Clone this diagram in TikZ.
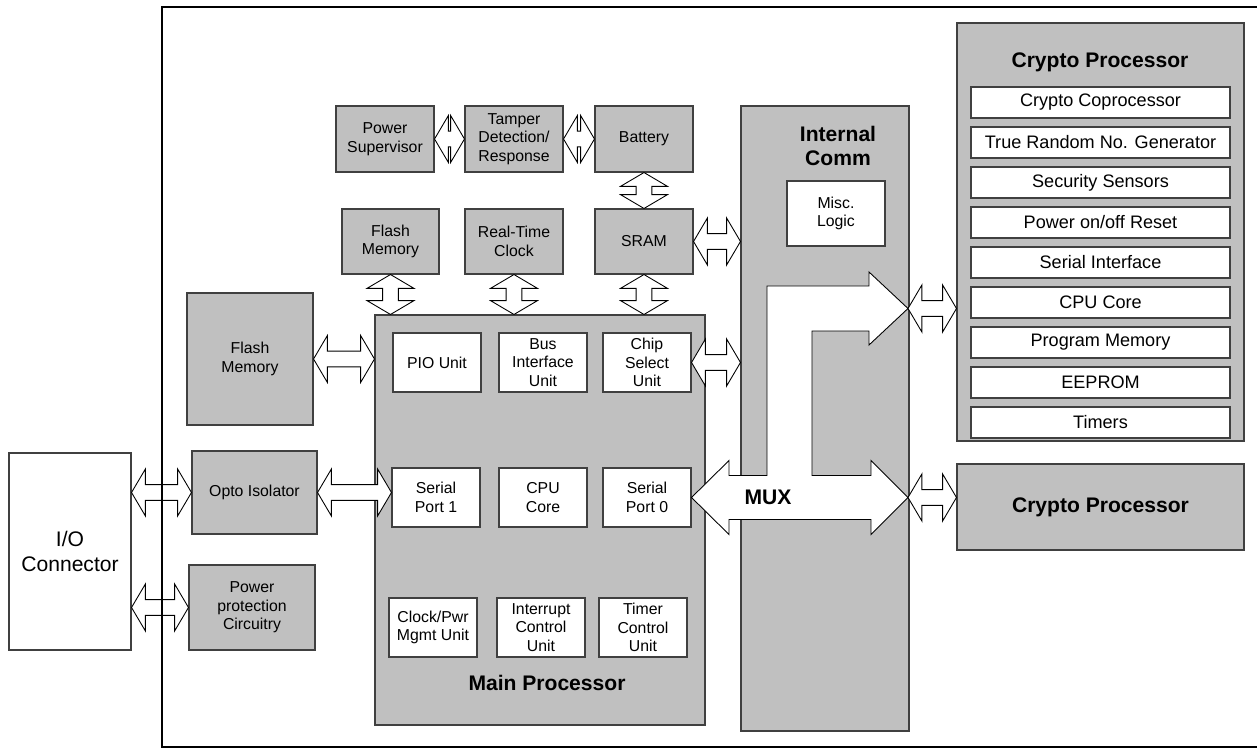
\documentclass[tikz,border=0pt]{standalone}
\usepackage{fontspec}
\setmainfont{Liberation Sans}
\usetikzlibrary{calc}

\definecolor{boxgray}{HTML}{C0C0C0}

\tikzset{
  graybox/.style={draw=black!75, line width=0.6pt, fill=boxgray, align=center, inner sep=0pt,
    font=\fontsize{9}{10.5}\selectfont},
  whitebox/.style={graybox, fill=white},
  boxsize/.style 2 args={minimum width={#1*0.02cm}, minimum height={#2*0.02cm}},
  titletext/.style={font=\fontsize{12}{14}\selectfont\bfseries, align=center},
  cryptorow/.style={whitebox, boxsize={259}{31}, font=\fontsize{10.3}{12}\selectfont},
  busline/.style={draw=black, fill=white, line width=0.5pt, line join=miter},
  frame/.style={line width=1.6pt},
}

% fat double arrow between two points
\def\bhl{7.9pt}
\def\bhw{13.4pt}
\def\bsw{4.5pt}
\newcommand\busarrow[2]{%
  \path[busline] let \p1=#1, \p2=#2,
      \n1={atan2(\y2-\y1,\x2-\x1)}, \n2={veclen(\x2-\x1,\y2-\y1)} in
    [shift={(\p1)}, rotate=\n1]
    (0pt,0pt) -- (\bhl,\bhw) -- (\bhl,\bsw) -- ({\n2*1pt-\bhl},\bsw) -- ({\n2*1pt-\bhl},\bhw)
    -- ({\n2*1pt},0pt) -- ({\n2*1pt-\bhl},-\bhw) -- ({\n2*1pt-\bhl},-\bsw) -- (\bhl,-\bsw)
    -- (\bhl,-\bhw) -- cycle;}

\begin{document}
\begin{tikzpicture}[x=0.02cm, y=-0.02cm]
  \useasboundingbox (0,0) rectangle (1257,749);

  % left side
  \node[whitebox, boxsize={122}{197}, font=\fontsize{12}{14}\selectfont] (io) at (70,551.5) {I/O\\Connector};
  \node[graybox, boxsize={125}{83}] (opto) at (254.5,492.5) {Opto Isolator};
  \node[graybox, boxsize={126}{85}] (pprot) at (252,607.5) {Power\\protection\\Circuitry};
  \node[graybox, boxsize={126}{132}] (flashL) at (250,359) {Flash\\Memory};

  % top row
  \node[graybox, boxsize={98}{66}] (ps) at (385,139) {Power\\Supervisor};
  \node[graybox, boxsize={98}{66}] (tamper) at (514,139) {Tamper\\Detection/\\Response};
  \node[graybox, boxsize={98}{66}] (battery) at (644,139) {Battery};
  \node[graybox, boxsize={97}{65}] (flashT) at (390.5,241.5) {Flash\\Memory};
  \node[graybox, boxsize={98}{65}] (rtc) at (514,241.5) {Real-Time\\Clock};
  \node[graybox, boxsize={98}{65}] (sram) at (644,241.5) {SRAM};

  % main processor
  \node[graybox, boxsize={330}{410}] (main) at (540,520) {};
  \node[whitebox, boxsize={88}{59}] (pio) at (437,362.5) {PIO Unit};
  \node[whitebox, boxsize={88}{59}] (biu) at (543,362.5) {Bus\\Interface\\Unit};
  \node[whitebox, boxsize={88}{59}] (csu) at (647,362.5) {Chip\\Select\\Unit};
  \node[whitebox, boxsize={88}{59}] (sp1) at (436,497.5) {Serial\\Port 1};
  \node[whitebox, boxsize={88}{59}] (cpu) at (543,497.5) {CPU\\Core};
  \node[whitebox, boxsize={88}{59}] (sp0) at (647,497.5) {Serial\\Port 0};
  \node[whitebox, boxsize={88}{59}] (clk) at (433,627.5) {Clock/Pwr\\Mgmt Unit};
  \node[whitebox, boxsize={88}{59}] (icu) at (541,627.5) {Interrupt\\Control\\Unit};
  \node[whitebox, boxsize={88}{59}] (tcu) at (643,627.5) {Timer\\Control\\Unit};
  \node[titletext] (mainlbl) at (547,683) {Main Processor};

  % internal comm
  \node[graybox, boxsize={168}{625}] (icomm) at (825,418.5) {};
  \node[titletext] (icommlbl) at (838,146) {Internal\\Comm};
  \node[whitebox, boxsize={98}{65}] (misc) at (836,213.5) {Misc.\\Logic};

  % crypto processors
  \node[graybox, boxsize={287}{418}] (cpt) at (1100.5,232) {};
  \node[titletext] (cptlbl) at (1100,62) {Crypto Processor};
  \foreach \txt [count=\i from 0] in {Crypto Coprocessor, True Random No. Generator,
      Security Sensors, Power on/off Reset, Serial Interface, CPU Core, Program Memory,
      EEPROM, Timers}
    \node[cryptorow] (row\i) at (1100.5,{102.5+40*\i}) {\txt};
  \node[graybox, boxsize={287}{86}, titletext] (cpb) at (1100.5,507) {Crypto Processor};

  % bus arrows
  \busarrow{(io.east |- opto.west)}{(opto.west)}
  \busarrow{(io.east |- pprot.west)}{(pprot.west)}
  \busarrow{(opto.east)}{(sp1.west |- opto.east)}
  \busarrow{(flashL.east)}{(main.west |- flashL.east)}
  \busarrow{(ps.east)}{(tamper.west)}
  \busarrow{(tamper.east)}{(battery.west)}
  \busarrow{(battery.south)}{(sram.north)}
  \busarrow{(flashT.south)}{(flashT.south |- main.north)}
  \busarrow{(rtc.south)}{(rtc.south |- main.north)}
  \busarrow{(sram.south)}{(sram.south |- main.north)}
  \busarrow{(sram.east)}{(icomm.west |- sram.east)}
  \busarrow{(csu.east)}{(icomm.west |- csu.east)}

  % mux
  \coordinate (muxa) at (908,308.5);
  \coordinate (muxb) at (908,497.5);
  \draw[busline] (sp0.east) -- (729,460.5) -- (729,475.5) -- (767,475.5) -- (767,286)
    -- (869,286) -- (869,272) -- (muxa) -- (869,345) -- (869,331) -- (812,331)
    -- (812,475.5) -- (871,475.5) -- (871,460.5) -- (muxb) -- (871,534.5) -- (871,519.5)
    -- (729,519.5) -- (729,534.5) -- cycle;
  \node[titletext] (mux) at (768,497) {MUX};
  \busarrow{(muxa)}{(cpt.west |- muxa)}
  \busarrow{(muxb)}{(cpb.west |- muxb)}

  % enclosure
  \draw[frame] (1257,7) -- (162,7) -- (162,747) -- (1257,747);
\end{tikzpicture}
\end{document}
